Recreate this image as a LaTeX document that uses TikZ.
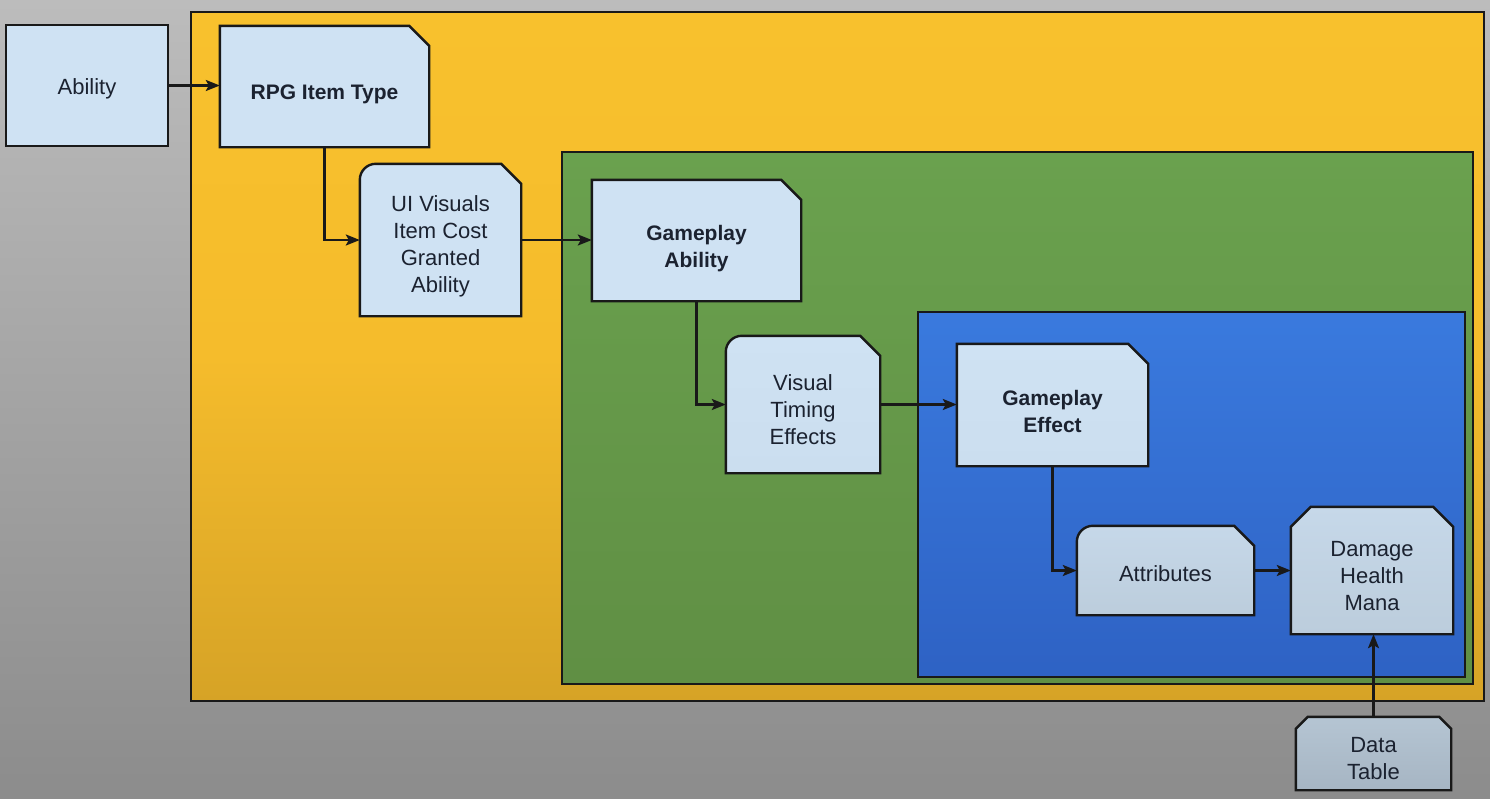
\documentclass[tikz,border=0pt]{standalone}
\usepackage{fontspec}
\setmainfont{Liberation Sans}
\usetikzlibrary{arrows.meta,calc}
\pgfdeclarelayer{bg}\pgfdeclarelayer{mid}
\pgfsetlayers{bg,mid,main}
\definecolor{txtc}{HTML}{1B2230}
\definecolor{nA}{HTML}{CFE2F3}
\definecolor{nB}{HTML}{CBDEEF}
\definecolor{nC}{HTML}{C6D8E9}
\definecolor{nD}{HTML}{BCCDDC}
\definecolor{nE}{HTML}{B5C5D3}
\definecolor{nF}{HTML}{A6B5C3}
\tikzset{
  geom/.style={draw=none,fill=none,inner sep=0pt},
  txt/.style={draw=none,fill=none,inner sep=0pt,align=center,text=txtc,
     font=\fontsize{22}{27}\selectfont},
  btxt/.style={txt,font=\fontsize{21}{27}\selectfont\bfseries},
  bline/.style={draw=black!90,line width=2.4pt,line join=miter},
  cont/.style={draw=black!90,line width=2.4pt},
  arr/.style={draw=black!90,line width=2.4pt,-{Stealth[length=14pt,width=11pt,inset=3pt]}},
}
\newcommand\plainbox[3]{\begin{pgfonlayer}{mid}\draw[bline,top color=#2,bottom color=#3]
  (#1.south west) rectangle (#1.north east);\end{pgfonlayer}}
\newcommand\snipbox[3]{\begin{pgfonlayer}{mid}\draw[bline,top color=#2,bottom color=#3]
  (#1.south west) -- (#1.north west) -- ([xshift=-20pt]#1.north east)
  -- ([yshift=-20pt]#1.north east) -- (#1.south east) -- cycle;\end{pgfonlayer}}
\newcommand\roundsnipbox[3]{\begin{pgfonlayer}{mid}\draw[bline,top color=#2,bottom color=#3]
  (#1.south west) [rounded corners=16pt]-- (#1.north west) [sharp corners]-- ([xshift=-20pt]#1.north east)
  -- ([yshift=-20pt]#1.north east) -- (#1.south east) -- cycle;\end{pgfonlayer}}
\newcommand\bothsnipbox[4]{\begin{pgfonlayer}{mid}\draw[bline,top color=#2,bottom color=#3]
  (#1.south west) -- ([yshift=-#4]#1.north west) -- ([xshift=#4]#1.north west) -- ([xshift=-#4]#1.north east)
  -- ([yshift=-#4]#1.north east) -- (#1.south east) -- cycle;\end{pgfonlayer}}
\begin{document}
\begin{tikzpicture}[x=1pt,y=-1pt]
\useasboundingbox (0,0) rectangle (1490,798);
\begin{pgfonlayer}{bg}
  \shade[top color={rgb,255:red,188;green,188;blue,188},bottom color={rgb,255:red,140;green,140;blue,140}]
    (0,0) rectangle (1490,798);
  \draw[cont,top color={rgb,255:red,248;green,193;blue,45},bottom color={rgb,255:red,214;green,163;blue,38},
    middle color={rgb,255:red,245;green,188;blue,44}] (191,12) rectangle (1484,701);
  \draw[cont,top color={rgb,255:red,106;green,161;blue,78},bottom color={rgb,255:red,96;green,143;blue,68}]
    (562,152) rectangle (1473,684);
  \draw[cont,top color={rgb,255:red,58;green,122;blue,222},bottom color={rgb,255:red,46;green,98;blue,196}]
    (918,312) rectangle (1465,677);
\end{pgfonlayer}

\node[geom,minimum width=162pt,minimum height=121pt] (ability) at (87,85.5) {};
\node[txt] (abilityT) at ([yshift=-3pt]ability.center) {Ability};
\plainbox{ability}{nA}{nA}

\node[geom,minimum width=209pt,minimum height=121pt] (rpg) at (324.5,86.5) {};
\node[btxt] (rpgT) at ([yshift=-8pt]rpg.center) {RPG Item Type};
\snipbox{rpg}{nA}{nA}

\node[geom,minimum width=161pt,minimum height=152pt] (ui) at (440.5,240) {};
\node[txt] (uiT) at ([yshift=-6pt]ui.center) {UI Visuals\\Item Cost\\Granted\\Ability};
\roundsnipbox{ui}{nA}{nA}

\node[geom,minimum width=209pt,minimum height=121pt] (ga) at (696.5,240.5) {};
\node[btxt] (gaT) at ([yshift=-8pt]ga.center) {Gameplay\\Ability};
\snipbox{ga}{nA}{nA}

\node[geom,minimum width=154pt,minimum height=137pt] (vt) at (803,404.5) {};
\node[txt] (vtT) at ([yshift=-5pt]vt.center) {Visual\\Timing\\Effects};
\roundsnipbox{vt}{nA}{nB}

\node[geom,minimum width=191pt,minimum height=122pt] (ge) at (1052.5,405) {};
\node[btxt] (geT) at ([yshift=-6pt]ge.center) {Gameplay\\Effect};
\snipbox{ge}{nA}{nB}

\node[geom,minimum width=177pt,minimum height=89pt] (attr) at (1165.5,570.5) {};
\node[txt] (attrT) at ([yshift=-3pt]attr.center) {Attributes};
\roundsnipbox{attr}{nC}{nD}

\node[geom,minimum width=162pt,minimum height=127pt] (dmg) at (1372,570.5) {};
\node[txt] (dmgT) at ([yshift=-6pt]dmg.center) {Damage\\Health\\Mana};
\bothsnipbox{dmg}{nC}{nD}{20pt}

\node[geom,minimum width=155pt,minimum height=73pt] (dt) at (1373.5,753.5) {};
\node[txt] (dtT) at ([yshift=-5pt]dt.center) {Data\\Table};
\bothsnipbox{dt}{nE}{nF}{12pt}

\draw[arr] (ability.east) -- (ability.east -| rpg.west);
\draw[arr] (rpg.south) |- (ui.west);
\draw[arr] (ui.east) -- (ui.east -| ga.west);
\draw[arr] (ga.south) |- (vt.west);
\draw[arr] (vt.east) -- (vt.east -| ge.west);
\draw[arr] (ge.south) |- (attr.west);
\draw[arr] (attr.east) -- (attr.east -| dmg.west);
\draw[arr] (dt.north) -- (dt.north |- dmg.south);
\end{tikzpicture}
\end{document}
